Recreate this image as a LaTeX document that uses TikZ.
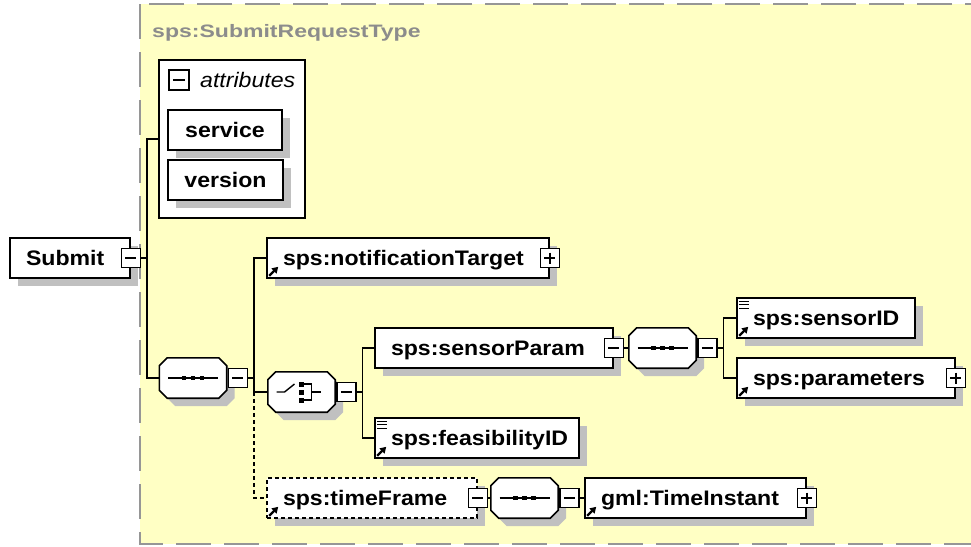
\documentclass[tikz,border=0pt]{standalone}
\usepackage{fontspec}
\setmainfont{Liberation Sans}[FakeStretch=1.1]
\newfontfamily\titlefont{Liberation Sans}[FakeStretch=1.28]
\usepackage{tikz}
\usetikzlibrary{arrows.meta,positioning,shadows}

\definecolor{typebg}{RGB}{255,255,196}
\definecolor{typeline}{RGB}{150,150,150}
\definecolor{shadegray}{RGB}{192,192,192}
\definecolor{titlegray}{RGB}{140,140,140}

\begin{document}
\begin{tikzpicture}[
    x=1pt, y=-1pt,
    sh/.style={drop shadow={shadow xshift=8pt, shadow yshift=-8pt, fill=shadegray, opacity=1}},
    elem/.style={draw, fill=white, line width=1.6pt, minimum height=40pt, inner xsep=16pt, inner ysep=0pt, text height=17pt, text depth=3pt, align=left, font=\fontsize{21}{25}\selectfont\bfseries, sh},
    attrib/.style={elem, inner xsep=0pt},
    compositor/.style={minimum width=67pt, minimum height=40pt, inner sep=0pt},
    oct/.style={insert path={([xshift=8pt]#1.north west) -- ([xshift=-8pt]#1.north east) -- ([yshift=-8pt]#1.north east)
        -- ([yshift=8pt]#1.south east) -- ([xshift=-8pt]#1.south east) -- ([xshift=8pt]#1.south west)
        -- ([yshift=8pt]#1.south west) -- ([yshift=-8pt]#1.north west) -- cycle}},
    collapse/.style={draw, fill=white, line width=1.4pt, minimum size=19pt, inner sep=0pt,
        path picture={\draw[line width=1.4pt] ([xshift=4pt]path picture bounding box.west) -- ([xshift=-4pt]path picture bounding box.east);}},
    expand/.style={draw, fill=white, line width=1.4pt, minimum size=19pt, inner sep=0pt,
        path picture={\draw[line width=1.4pt] ([xshift=4pt]path picture bounding box.west) -- ([xshift=-4pt]path picture bounding box.east)
            ([yshift=-4pt]path picture bounding box.north) -- ([yshift=4pt]path picture bounding box.south);}},
    markline/.style={line width=1.4pt},
    conn/.style={line width=1.3pt},
    optconn/.style={conn, dash pattern=on 4pt off 3pt},
    refarrow/.style={line width=2.2pt, -{Triangle[length=6pt,width=7pt]}},
    simplemark/.style={line width=1.2pt}
]
\clip (0,0) rectangle (971,546);

% complex type area
\draw[typeline, fill=typebg, line width=2pt, dash pattern=on 35pt off 13pt] (140,4) rectangle (990,544);
\node[anchor=base west, text=titlegray, font=\titlefont\fontsize{18}{22}\selectfont\bfseries, inner sep=0pt] (typename) at (152,37) {sps:SubmitRequestType};

% attributes
\node[draw, fill=white, line width=1.6pt, minimum width=146pt, minimum height=158pt] (attrs) at (232,139) {};
\node[collapse, minimum size=20pt] (attrsx) at (179,80) {};
\node[anchor=west, font=\fontsize{21}{25}\selectfont\itshape, inner sep=0pt, text height=17pt, text depth=3pt] (attrslbl) at (200,80) {attributes};
\node[attrib, minimum width=114pt] (service) at (225,130) {service};
\node[attrib, minimum width=115pt] (version) at (225.5,180) {version};

% elements
\node[elem, text width=88pt] (submit) at (70,258) {Submit};
\node[elem, text width=250pt] (notif) at (408,258) {sps:notificationTarget};
\node[elem, text width=206pt] (sparam) at (494,348) {sps:sensorParam};
\node[elem, text width=146pt] (sensid) at (826,318) {sps:sensorID};
\node[elem, text width=186pt] (params) at (846,378) {sps:parameters};
\node[elem, text width=172pt] (feas) at (477,438) {sps:feasibilityID};
\node[elem, dash pattern=on 4pt off 3pt, text width=178pt] (tframe) at (372,498) {sps:timeFrame};
\node[elem, text width=189pt] (tinst) at (695.5,498) {gml:TimeInstant};

% compositors
\node[compositor] (seq1) at (193,378) {};
\node[compositor] (choice) at (301.5,392) {};
\node[compositor] (seq2) at (662.5,348) {};
\node[compositor] (seq3) at (524.5,498) {};
\foreach \n in {seq1,choice,seq2,seq3} {
  \fill[shadegray, transform canvas={shift={(8pt,-8pt)}}] [oct=\n];
  \draw[line width=1.6pt, fill=white] [oct=\n];
}
\foreach \n in {seq1,seq2,seq3} {
  \draw[markline] ([xshift=-25pt]\n.center) -- ([xshift=25pt]\n.center);
  \foreach \d in {-9,0,9}
    \fill ([shift={(\d pt-2.25pt,-2.25pt)}]\n.center) rectangle ++(4.5pt,4.5pt);
}
\draw[markline] ([xshift=-25pt]choice.center) -- ([xshift=-17pt]choice.center) -- ([shift={(-7pt,8pt)}]choice.center);
\foreach \d in {-8,0,8}
  \fill ([shift={(-3pt,\d pt-2.5pt)}]choice.center) rectangle ++(5pt,5pt);
\draw[markline] ([shift={(2pt,8pt)}]choice.center) -- ([shift={(10pt,8pt)}]choice.center)
  -- ([shift={(10pt,-8pt)}]choice.center) -- ([shift={(2pt,-8pt)}]choice.center)
  ([xshift=10pt]choice.center) -- ([xshift=19pt]choice.center);

% expand / collapse buttons
\node[collapse] (submitx) at (submit.east) {};
\node[expand] (notifx) at (notif.east) {};
\node[collapse] (sparamx) at (sparam.east) {};
\node[expand] (paramsx) at (params.east) {};
\node[collapse] (tframex) at (tframe.east) {};
\node[expand] (tinstx) at (tinst.east) {};
\node[collapse, right=1pt of seq1] (seq1x) {};
\node[collapse, right=1pt of choice] (choicex) {};
\node[collapse, right=1pt of seq2] (seq2x) {};
\node[collapse, right=1pt of seq3] (seq3x) {};

% icons
\foreach \n in {notif,sensid,params,feas,tframe,tinst}
  \draw[refarrow] ([shift={(3pt,3pt)}]\n.south west) -- ++(9pt,9pt);
\foreach \n in {sensid,feas}
  \foreach \d in {4,7.5,11}
    \draw[simplemark] ([shift={(3pt,-\d pt)}]\n.north west) -- ++(10pt,0pt);

% connectors
\draw[conn] (submitx.east) -- ++(6,0) coordinate (j1);
\draw[conn] (attrs.west) -| (j1) |- (seq1.west);
\draw[conn] (seq1x.east) -- ++(6,0) coordinate (j2);
\draw[conn] (notif.west) -| (j2) |- (choice.west);
\draw[optconn] (j2 |- choice.west) |- (tframe.west);
\draw[conn] (choicex.east) -- ++(6,0) coordinate (j3);
\draw[conn] (sparam.west) -| (j3) |- (feas.west);
\draw[conn] (sparamx) -- (seq2);
\draw[conn] (seq2x.east) -- ++(6,0) coordinate (j4);
\draw[conn] (sensid.west) -| (j4) |- (params.west);
\draw[conn] (tframex) -- (seq3);
\draw[conn] (seq3x) -- (tinst);
\end{tikzpicture}
\end{document}
